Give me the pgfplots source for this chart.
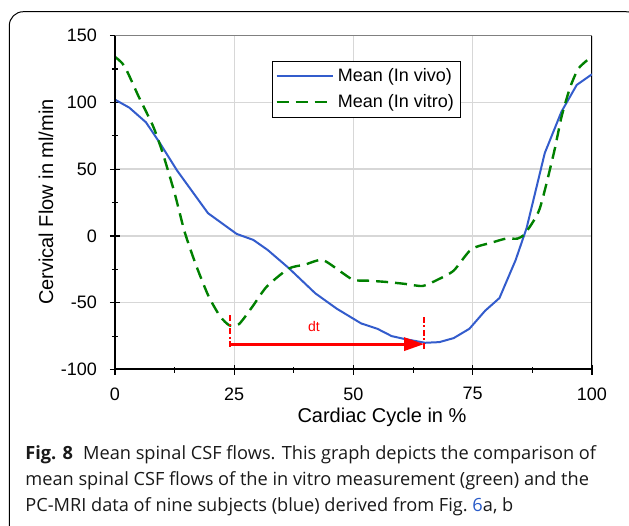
\documentclass[border=0pt]{standalone}
\usepackage{fontspec}
\setmainfont{Liberation Sans}
\newfontfamily\capfont{Open Sans}
\usepackage{pgfplots}
\pgfplotsset{compat=1.18}
\usetikzlibrary{arrows.meta}

\definecolor{vivo}{RGB}{51,92,204}
\definecolor{vitro}{RGB}{0,128,0}
\definecolor{gridgray}{RGB}{215,215,215}
\definecolor{linkblue}{RGB}{40,90,200}

\begin{document}
\begin{tikzpicture}[x=0.5pt,y=0.5pt]
\useasboundingbox (0,0) rectangle (629,-526);
% frame around figure (cropped on the right and bottom)
\draw[black, line width=0.5pt, rounded corners=7pt] (9.3,-560) -- (9.3,-11.7) -- (640,-11.7) -- (640,-560);

\begin{axis}[
  at={(57.5pt,-184.75pt)}, anchor=south west,
  scale only axis, width=238.5pt, height=167pt,
  xmin=0, xmax=100, ymin=-100, ymax=150,
  xtick={0,25,...,100}, ytick={-100,-50,...,150},
  minor x tick num=1, minor y tick num=1,
  xtick pos=left, ytick pos=left,
  tick align=center,
  major tick length=5pt, minor tick length=3pt,
  every tick/.style={black, line width=0.6pt},
  grid=major,
  major grid style={gridgray, line width=0.7pt},
  axis line style={draw=black, line width=0.5pt},
  tick label style={font=\fontsize{9}{10}\selectfont},
  /pgf/number format/assume math mode=true,
  xticklabel style={yshift=-3pt},
  yticklabel style={xshift=-3pt},
  legend style={at={(0.329,0.925)}, anchor=north west, draw=black, line width=0.5pt,
    font=\fontsize{9}{10}\selectfont, inner sep=1.5pt, row sep=1pt},
  legend cell align=left,
  legend image code/.code={\draw[#1] (0pt,0pt) -- (28pt,0pt);},
  clip=true,
]
\addplot[vivo, line width=1pt] coordinates {
(0,102) (3,96) (6.5,85) (9.5,69) (13,49) (19.5,17) (25.5,1.5) (29,-3) (32,-10.5)
(36.4,-24) (42,-43) (46.5,-54.5) (51.6,-65.5) (55,-69.5) (58,-75) (60.5,-77)
(65,-80) (68,-79.5) (71,-76.5) (74.3,-69.5) (77.6,-56) (80.6,-46.5) (84,-18)
(86.3,6) (90.1,62) (93.6,93) (96.8,113) (100,121)
};
\addlegendentry{Mean (In vivo)}
\addplot[vitro, line width=1.2pt, dash pattern=on 6pt off 3.5pt, smooth, tension=0.4] coordinates {
(0,134) (2,127) (5,104) (8,82) (10,62) (12.5,32) (14.6,3) (17,-22) (19.6,-45)
(22,-60) (24,-67) (26,-66) (28.8,-53) (31.8,-38) (36.4,-24.5) (39.8,-21.5)
(43.5,-18) (47.4,-27) (50,-33) (53,-33.5) (57,-34.5) (61,-36) (64.5,-37.5)
(67.5,-33) (71,-26) (74.7,-10) (79,-5) (82,-2) (84.4,-2) (86,2) (89,20)
(92,62) (93.6,89) (95.4,111) (97.1,125) (99,131.5)
};
\addlegendentry{Mean (In vitro)}
% dt annotation
\draw[red, line width=1pt, dash pattern=on 3pt off 1.2pt on 1pt off 1.2pt] (axis cs:24.1,-59.5) -- (axis cs:24.1,-83.5);
\draw[red, line width=1pt, dash pattern=on 3pt off 1.2pt on 1pt off 1.2pt] (axis cs:64.8,-60.7) -- (axis cs:64.8,-85.6);
\draw[red, line width=1.5pt, -{Triangle[length=10pt,width=6.5pt]}] (axis cs:24.1,-81) -- (axis cs:64.8,-81);
\node[red, font=\fontsize{7}{8}\selectfont] at (axis cs:41.7,-68) {dt};
% heavy left and bottom axis lines
\draw[black, line width=1.1pt] (rel axis cs:0,1) -- (rel axis cs:0,0) -- (rel axis cs:1,0);
\draw[gray, line width=0.6pt] (rel axis cs:0,1) -- (rel axis cs:1,1);
\end{axis}

% axis titles
\node[font=\fontsize{10}{12}\selectfont] at (382,-417) {Cardiac Cycle in \%};
\node[font=\fontsize{10}{12}\selectfont, rotate=90] at (46,-202) {Cervical Flow in ml/min};

% caption
\node[anchor=base west, inner sep=0pt, font=\capfont\fontsize{9.1}{13}\selectfont, text=black!90] at (25,-459.3)
  {\textbf{Fig. 8}\hspace{0.55em}Mean spinal CSF flows. This graph depicts the comparison of};
\node[anchor=base west, inner sep=0pt, font=\capfont\fontsize{9.1}{13}\selectfont, text=black!90] at (25,-485.5)
  {mean spinal CSF flows of the in vitro measurement (green) and the};
\node[anchor=base west, inner sep=0pt, font=\capfont\fontsize{9.1}{13}\selectfont, text=black!90] at (25,-511.7)
  {PC-MRI data of nine subjects (blue) derived from Fig.~\textcolor{linkblue}{6}a, b};
\end{tikzpicture}
\end{document}
